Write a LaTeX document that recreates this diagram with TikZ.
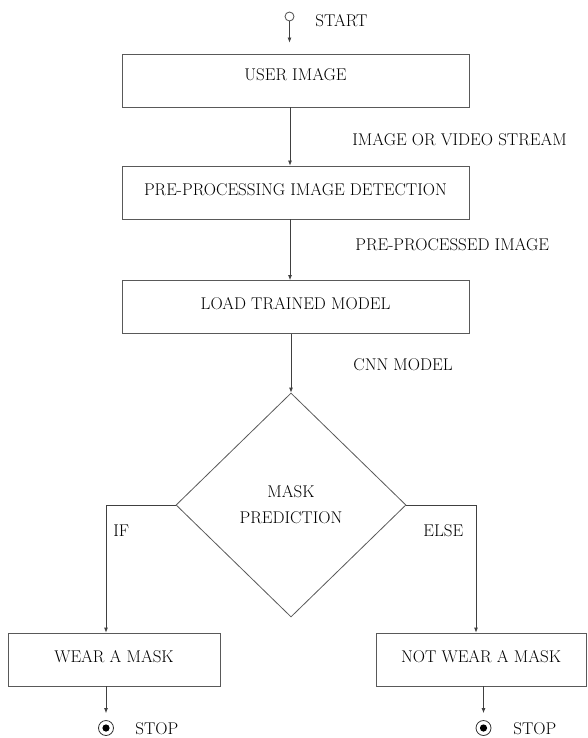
\documentclass[tikz,border=0pt]{standalone}
\usepackage{fontspec}
\usetikzlibrary{shapes.geometric,arrows.meta}

\begin{document}
\begin{tikzpicture}[x=1pt,y=-1pt,
                      font=\fontsize{17}{26}\selectfont,
                      line width=0.8pt,
                      proc box/.style={rectangle,draw=black!65,inner sep=0pt,
                      minimum width=347pt,minimum height=53pt,text depth=7pt},
                      choice/.style={diamond,draw=black!65,inner sep=0pt,
                      minimum width=230pt,minimum height=224pt,align=center},
                      tag/.style={inner sep=0pt,anchor=west},
                      arr/.style={draw=black!75,-{Latex[length=5pt,width=4pt]}},
                      stop dot/.style={circle,draw=black!80,minimum size=15pt,inner sep=0pt,
                      path picture={\fill (path picture bounding box.center) circle (3.6pt);}}
                     ]
   \useasboundingbox (0,0) rectangle (587,738);

   % start marker
   \node[circle,draw=black!70,minimum size=9pt,inner sep=0pt] (start) at (289.5,16.5) {};
   \node[tag] (startlbl) at (315,20.5) {START};

   % main column
   \node[proc box,text depth=12pt] (usr) at (295.5,80.5) {USER IMAGE};
   \node[proc box] (pre) at (295.5,192.5) {PRE-PROCESSING IMAGE DETECTION};
   \node[proc box] (load) at (295.5,307) {LOAD TRAINED MODEL};
   \node[choice] (mask) at (291,505) {MASK\\PREDICTION};

   % results
   \node[proc box,minimum width=212pt] (wear) at (114,659.5) {WEAR A MASK};
   \node[proc box,minimum width=210pt] (nowear) at (481,659.5) {NOT WEAR A MASK};
   \node[stop dot] (stopl) at (106,728) {};
   \node[stop dot] (stopr) at (483.5,728) {};
   \node[tag] (stoplbl) at (135,729) {STOP};
   \node[tag] (stoprlbl) at (513,729) {STOP};

   % what flows between the steps
   \node[tag] (flow1) at (352,139.5) {IMAGE OR VIDEO STREAM};
   \node[tag] (flow2) at (355,245) {PRE-PROCESSED IMAGE};
   \node[tag] (flow3) at (353,365) {CNN MODEL};
   \node[tag] (iflbl) at (113,531) {IF};
   \node[tag] (elselbl) at (423,531) {ELSE};

   \coordinate (ifc) at (106,505);
   \coordinate (elsec) at (476,505);

   \path%
     (start) edge[arr,shorten >=11pt] (usr.north -| start)
     ([xshift=-5.5pt]usr.south) edge[arr] ([xshift=-5.5pt]pre.north)
     ([xshift=-5.5pt]pre.south) edge[arr] ([xshift=-5.5pt]load.north)
     (load.south -| mask.north) edge[arr] (mask.north)
     (wear.south -| stopl) edge[arr,shorten >=7pt] (stopl.north)
     (nowear.south -| stopr) edge[arr,shorten >=7pt] (stopr.north);

   % the two branches out of the decision
   \draw[arr] (mask.west) -- (ifc) -- (ifc |- wear.north);
   \draw[arr] (mask.east) -- (elsec) -- (elsec |- nowear.north);
\end{tikzpicture}
\end{document}
